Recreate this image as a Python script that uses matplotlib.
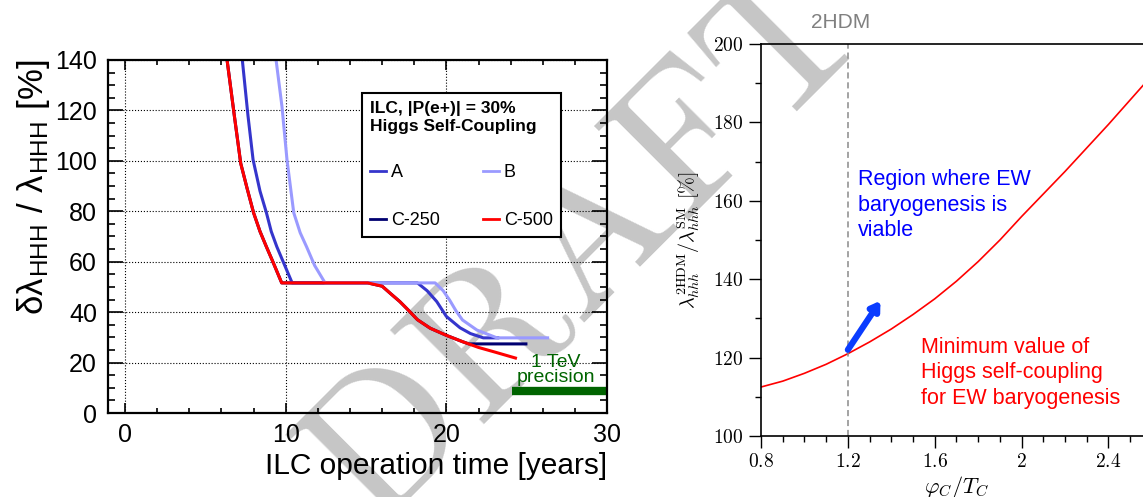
import numpy as np
import matplotlib.pyplot as plt
from matplotlib.ticker import MultipleLocator, FuncFormatter

plt.rcParams['font.family'] = ['Liberation Sans', 'DejaVu Sans']
plt.rcParams['mathtext.fontset'] = 'cm'

# Higgs self-coupling precision vs ILC running time, four run scenarios
a_years = [7.3, 7.65, 7.97, 8.4, 8.8, 9.1, 9.45, 10.4, 18.2, 18.8, 19.4, 20.0, 20.85, 21.5, 22.3, 23.2]
a_prec = [140, 118, 100.4, 88, 79.4, 72, 65.9, 51.6, 51.6, 48.5, 44.2, 38.3, 33.8, 31.5, 29.8, 29.8]

b_years = [9.4, 9.77, 10.08, 10.5, 10.9, 11.3, 11.8, 12.45, 19.3, 19.8, 20.2, 20.6, 21.0, 21.9, 23.15, 26.3]
b_prec = [140, 121.4, 100.4, 79.4, 71.5, 65.9, 58.5, 51.6, 51.6, 48.5, 44.8, 40.5, 36.9, 32.9, 29.8, 29.8]

c250_years = [6.35, 6.8, 7.2, 7.6, 8.0, 8.4, 8.8, 9.2, 9.75, 15.1, 16.0, 16.5, 17.1, 17.6,
              18.2, 19.0, 20.0, 21.0, 21.4, 24.95]
c250_prec = [140, 118, 99, 89, 79.4, 72, 65.9, 60, 51.6, 51.6, 50.3, 47.5, 44.2, 41,
             37, 33.6, 30.8, 28.3, 27.4, 27.4]

c500_years = [6.35, 6.8, 7.2, 7.6, 8.0, 8.4, 8.8, 9.2, 9.75, 15.1, 16.0, 16.5, 17.1, 17.6,
              18.2, 19.0, 20.0, 21.0, 22.0, 23.0, 24.3]
c500_prec = [140, 118, 99, 89, 79.4, 72, 65.9, 60, 51.6, 51.6, 50.3, 47.5, 44.2, 41,
             37, 33.6, 30.8, 28.3, 26, 24.2, 21.8]

# 1 TeV reference precision band
tev_years = [24.1, 30.0]
tev_prec = [8.7, 8.7]

# 2HDM: minimum trilinear coupling needed for a strong first-order transition
phi_over_t = [0.8, 0.9, 1.0, 1.1, 1.2, 1.3, 1.4, 1.5, 1.6, 1.7, 1.8, 1.9, 2.0, 2.2, 2.4, 2.6]
lam_ratio = [112.5, 114, 116, 118.3, 121, 124, 127.3, 131, 135, 139.5, 144.5, 150, 156,
             167.5, 179.5, 192]
phi_cut = 1.2
arrow_from = (1.2, 122)
arrow_to = (1.35, 134.5)

fig = plt.figure(figsize=(11.43, 4.97), dpi=100)

# watermark sits behind both panels
fig.text(0.512, 0.497, r'$\mathrm{DRAFT}$', rotation=45, fontsize=140,
         color='#c6c6c6', ha='center', va='center', zorder=-5)

# ---- left panel ----
ax1 = fig.add_axes([0.0945, 0.169, 0.4366, 0.7103])
ax1.set_facecolor('none')
l_c250, = ax1.plot(c250_years, c250_prec, color='#000070', lw=2.2)
l_a, = ax1.plot(a_years, a_prec, color='#3535cc', lw=2.2)
l_b, = ax1.plot(b_years, b_prec, color='#9a9aff', lw=2.2)
l_c500, = ax1.plot(c500_years, c500_prec, color='#ff0000', lw=2.2)
ax1.plot(tev_years, tev_prec, color='#006400', lw=6, solid_capstyle='butt', clip_on=False)
ax1.text(26.8, 20.2, '1 TeV', color='#006400', fontsize=14, ha='center', va='center')
ax1.text(26.8, 13.9, 'precision', color='#006400', fontsize=14, ha='center', va='center')

ax1.set_xlim(-1.06, 30)
ax1.set_ylim(0, 140)
ax1.xaxis.set_major_locator(MultipleLocator(10))
ax1.xaxis.set_minor_locator(MultipleLocator(2))
ax1.yaxis.set_major_locator(MultipleLocator(20))
ax1.yaxis.set_minor_locator(MultipleLocator(5))
ax1.tick_params(which='both', direction='in', top=True, right=True, labelsize=18, width=1.2)
ax1.tick_params(axis='x', which='major', length=7.5, pad=7)
ax1.tick_params(axis='x', which='minor', length=3.5)
ax1.tick_params(axis='y', which='major', length=10.5, pad=8)
ax1.tick_params(axis='y', which='minor', length=5)
ax1.grid(True, which='major', linestyle=':', color='black', lw=0.8)
for s in ax1.spines.values():
    s.set_linewidth(1.6)
ax1.set_xlabel('ILC operation time [years]', fontsize=21.5, loc='right', labelpad=4)
ax1.set_ylabel(r'δλ$_{\mathregular{HHH}}$ / λ$_{\mathregular{HHH}}$ [%]', fontsize=25,
               loc='top', labelpad=2)

leg = ax1.legend([l_a, l_c250, l_b, l_c500], ['A', 'C-250', 'B', 'C-500'], ncol=2,
                 loc='upper left', bbox_to_anchor=(0.509, 0.906),
                 title='ILC, |P(e+)| = 30%\nHiggs Self-Coupling',
                 title_fontproperties={'weight': 'bold', 'size': 12.5},
                 alignment='left', fontsize=13, fancybox=False, edgecolor='black',
                 framealpha=1, handlelength=0.9, handletextpad=0.25, columnspacing=2.4,
                 labelspacing=1.7, borderpad=0.45, borderaxespad=0)
leg.get_frame().set_linewidth(1.5)
for ln in leg.get_lines():
    ln.set_linewidth(2)

# ---- right panel ----
ax2 = fig.add_axes([0.6658, 0.1227, 0.342, 0.7887])
ax2.set_facecolor('none')
ax2.plot(phi_over_t, lam_ratio, color='#ff0000', lw=1.2)
ax2.axvline(phi_cut, color='#8a8a8a', lw=1.1, ls=(0, (4, 2.5)))
ax2.annotate('', xy=arrow_to, xytext=arrow_from,
             arrowprops=dict(arrowstyle='-|>,head_length=0.5,head_width=0.32',
                             color='#0a3cff', lw=4.5, shrinkA=0, shrinkB=0))
ax2.text(1.245, 158.9, 'Region where EW\nbaryogenesis is\nviable', color='#0000ff',
         fontsize=15.5, ha='left', va='center', linespacing=1.27)
ax2.text(1.535, 116.1, 'Minimum value of\nHiggs self-coupling\nfor EW baryogenesis',
         color='#ff0000', fontsize=15.5, ha='left', va='center', linespacing=1.27)
ax2.text(1.168, 205.6, '2HDM', color='#808080', fontsize=15, ha='center', va='center')

ax2.set_xlim(0.8, 2.6)
ax2.set_ylim(100, 200)
ax2.xaxis.set_major_locator(MultipleLocator(0.4))
ax2.xaxis.set_minor_locator(MultipleLocator(0.1))
ax2.yaxis.set_major_locator(MultipleLocator(20))
ax2.yaxis.set_minor_locator(MultipleLocator(10))
cm_fmt = FuncFormatter(lambda v, p: '$%g$' % round(v, 2))
ax2.xaxis.set_major_formatter(cm_fmt)
ax2.yaxis.set_major_formatter(cm_fmt)
ax2.tick_params(which='both', direction='out', labelsize=14, width=1)
ax2.tick_params(which='major', length=8.5, pad=4)
ax2.tick_params(which='minor', length=4.5)
for s in ax2.spines.values():
    s.set_linewidth(1.2)
ax2.set_xlabel(r'$\varphi_C/T_C$', fontsize=16, labelpad=2)
ax2.set_ylabel(r'$\lambda_{hhh}^{\rm 2HDM}/\lambda_{hhh}^{\rm SM}\ [\%]$', fontsize=14.5,
               labelpad=8)

fig.savefig('out.png', dpi=100)
plt.close(fig)
